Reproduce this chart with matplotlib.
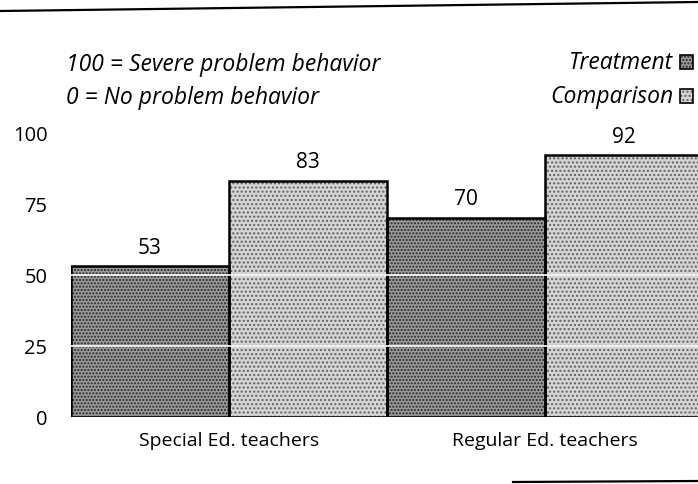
import matplotlib.pyplot as plt
from matplotlib.lines import Line2D

groups = ["Special Ed. teachers", "Regular Ed. teachers"]
treatment = [53, 70]
comparison = [83, 92]
yticks = [0, 25, 50, 75, 100]

plt.rcParams['font.family'] = ['Open Sans', 'DejaVu Sans']
plt.rcParams['hatch.linewidth'] = 1.0

fig = plt.figure(figsize=(6.98, 4.85), dpi=100)
# axes runs past the right edge, last bar is cut off like in the scan
ax = fig.add_axes([71 / 698, 67 / 485, 632 / 698, 418 / 485])
ax.set_xlim(0, 4)
ax.set_ylim(0, 146.7)

tx = [0.5 + 2 * i for i in range(len(groups))]
cx = [1.5 + 2 * i for i in range(len(groups))]

t_fc, t_hc, t_h = '#9a9a9a', '#262626', '.....'
c_fc, c_hc, c_h = '#d4d4d4', '#606060', '....'

# stipple fill (hatch takes the edge colour), then black outline on top
ax.bar(tx, treatment, width=1, color=t_fc, edgecolor=t_hc, hatch=t_h, linewidth=0)
ax.bar(cx, comparison, width=1, color=c_fc, edgecolor=c_hc, hatch=c_h, linewidth=0)
for t in [25, 50]:
    ax.axhline(t, color='white', lw=1.2)
ax.bar(tx, treatment, width=1, fill=False, edgecolor='black', linewidth=1.8)
ax.bar(cx, comparison, width=1, fill=False, edgecolor='black', linewidth=1.8)

for x, v in list(zip(tx, treatment)) + list(zip(cx, comparison)):
    ax.annotate(str(v), (x, v), xytext=(0, 6), textcoords='offset points',
                ha='center', va='bottom', fontsize=15, weight='medium')

for s in ax.spines.values():
    s.set_visible(False)
ax.set_yticks(yticks)
ax.set_xticks([1, 3], groups)
ax.tick_params(axis='y', length=0, pad=17, labelsize=14.5)
ax.tick_params(axis='x', length=0, pad=10, labelsize=14)
for lab in ax.get_yticklabels() + ax.get_xticklabels():
    lab.set_fontweight('medium')

# notes and legend
note_kw = dict(style='italic', fontsize=16.5, va='center', weight='medium')
fig.text(66 / 698, 1 - 65 / 485, "100 = Severe problem behavior", **note_kw)
fig.text(66 / 698, 1 - 98 / 485, "0 = No problem behavior", **note_kw)
fig.text(673 / 698, 1 - 63 / 485, "Treatment", ha='right', **note_kw)
fig.text(673 / 698, 1 - 97 / 485, "Comparison", ha='right', **note_kw)
for yy, fc, ec, h in [(63, t_fc, t_hc, t_h), (97, c_fc, c_hc, c_h)]:
    fig.patches.append(plt.Rectangle((680 / 698, 1 - (yy + 7) / 485), 13 / 698, 14 / 485,
                                     transform=fig.transFigure, facecolor=fc,
                                     edgecolor=ec, hatch=h, lw=0))
    fig.patches.append(plt.Rectangle((680 / 698, 1 - (yy + 7) / 485), 13 / 698, 14 / 485,
                                     transform=fig.transFigure, fill=False,
                                     edgecolor='black', lw=1.2))

# scan rules top and bottom
fig.add_artist(Line2D([0, 1], [1 - 12 / 485, 1 - 3 / 485], color='black', lw=1.6))
fig.add_artist(Line2D([513 / 698, 1], [1 - 483 / 485, 1 - 482 / 485], color='black', lw=1.6))

fig.savefig('out.png', dpi=100)
